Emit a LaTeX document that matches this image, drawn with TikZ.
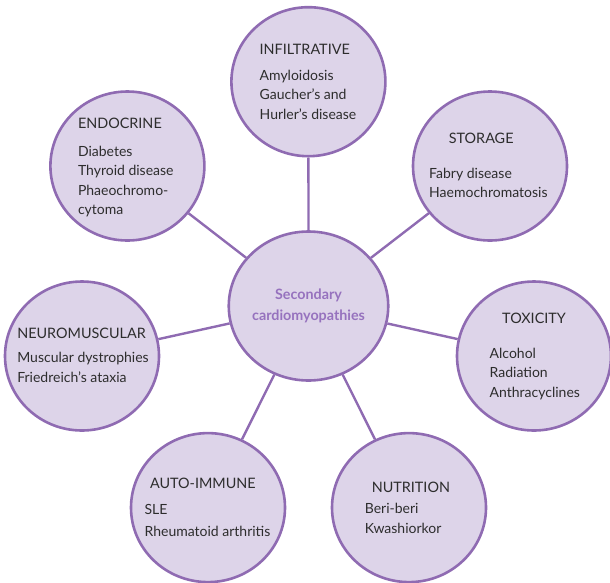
\documentclass[tikz,border=0pt]{standalone}
\usepackage{fontspec}
\setmainfont{Lato}
\usetikzlibrary{shapes.geometric}

\definecolor{discfill}{RGB}{221,212,233}
\definecolor{discline}{RGB}{143,107,178}
\definecolor{disctext}{RGB}{45,45,45}
\definecolor{hubtext}{RGB}{150,114,190}

\begin{document}
\begin{tikzpicture}[x=1pt, y=-1pt,
    disc/.style={ellipse, draw=discline, fill=discfill, line width=2.6pt,
                 minimum width=154pt, minimum height=149pt, inner sep=0pt},
    link/.style={draw=discline, line width=2.4pt},
    head/.style={anchor=base west, inner sep=0pt, text=disctext,
                 font=\fontsize{14.4}{16}\selectfont},
    items/.style={anchor=base west, inner sep=0pt, text=disctext, align=left,
                  font=\fontsize{14}{19.6}\selectfont}]
  \useasboundingbox (0,0) rectangle (610,582);

  % Centre
  \node[disc, align=center, text=hubtext,
        font=\fontsize{14.3}{20.5}\selectfont\bfseries] (hub) at (308.5,306)
        {Secondary\\cardiomyopathies};

  % Groups round it
  \node[disc] (infil) at (308.4,81.7) {};
  \node[disc] (store) at (490,166) {};
  \node[disc] (toxic) at (534,356) {};
  \node[disc] (nutri) at (409,507.6) {};
  \node[disc] (auto)  at (208,507.6) {};
  \node[disc] (neuro) at (82,356) {};
  \node[disc] (endo)  at (127.4,166) {};

  \foreach \n in {infil, store, toxic, nutri, auto, neuro, endo}
    \draw[link] (hub) -- (\n);

  % Texts (items sit on the baseline of their last line)
  \node[head]  (infilT) at (259.5,54.4) {INFILTRATIVE};
  \node[items] (infilB) at (259.5,119.2) {Amyloidosis\\Gaucher’s and\\Hurler’s disease};

  \node[head]  (storeT) at (448.6,143.5) {STORAGE};
  \node[items] (storeB) at (429,197.6) {Fabry disease\\Haemochromatosis};

  \node[head]  (toxicT) at (502,323.5) {TOXICITY};
  \node[items] (toxicB) at (489.5,397.2) {Alcohol\\Radiation\\Anthracyclines};

  \node[head]  (nutriT) at (371.6,492) {NUTRITION};
  \node[items] (nutriB) at (364.6,533.1) {Beri-beri\\Kwashiorkor};

  \node[head]  (autoT) at (149.8,488.7) {AUTO-IMMUNE};
  \node[items, font=\fontsize{14}{22}\selectfont] (autoB) at (144.4,536.6)
        {SLE\\Rheumatoid arthritis};

  \node[head]  (neuroT) at (17.1,338.3) {NEUROMUSCULAR};
  \node[items] (neuroB) at (17.1,382.4) {Muscular dystrophies\\Friedreich’s ataxia};

  \node[head]  (endoT) at (77.8,128.6) {ENDOCRINE};
  \node[items] (endoB) at (77.8,214.8) {Diabetes\\Thyroid disease\\Phaeochromo-\\cytoma};
\end{tikzpicture}
\end{document}
